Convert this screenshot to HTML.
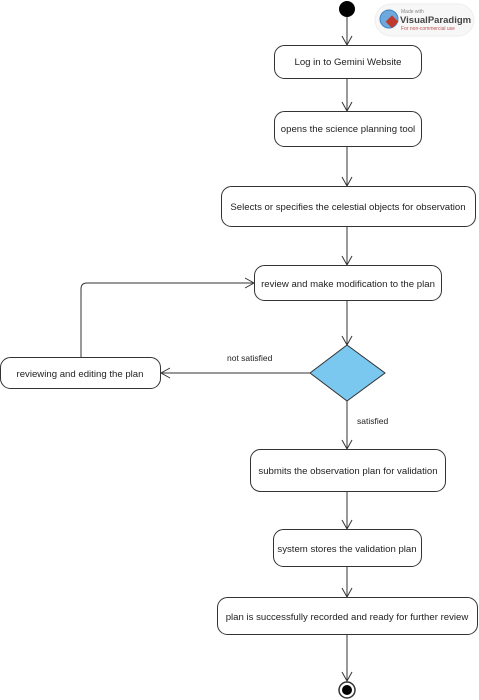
<!DOCTYPE html>
<html><head><meta charset="utf-8"><style>
html,body{margin:0;padding:0;background:#fff;}
svg{display:block;}
text{font-family:"Liberation Sans",Arial,sans-serif;font-size:9.6px;fill:#222;}
</style></head><body>
<svg width="479" height="700" viewBox="0 0 479 700" xmlns="http://www.w3.org/2000/svg">
<defs>
<marker id="a" markerWidth="12" markerHeight="12" refX="10" refY="6" orient="auto" markerUnits="userSpaceOnUse">
<path d="M1,1 L10,6 L1,11" fill="none" stroke="#333" stroke-width="1"/>
</marker>
</defs>
<g stroke="#333" stroke-width="1" fill="none">
<rect x="375" y="4" width="99" height="32" rx="16" fill="#f7f7f7" stroke="#eee"/>
</g>
<circle cx="389" cy="19" r="9" fill="#6fa8dc" stroke="#3d85c6"/>
<rect x="388" y="17" width="9" height="9" fill="#c0392b" transform="rotate(45 392 21)"/>
<text x="401" y="13" style="font-size:5px;fill:#888">Made with</text>
<text x="400" y="23" style="font-size:9.5px;font-weight:bold;fill:#444">VisualParadigm</text>
<text x="401" y="30" style="font-size:5px;fill:#b55">For non-commercial use</text>

<circle cx="347" cy="9" r="8" fill="#000"/>
<g stroke="#333" stroke-width="1" fill="none">
<line x1="347" y1="17" x2="347" y2="45" marker-end="url(#a)"/>
<rect x="274.5" y="45.5" width="147" height="33" rx="10" fill="#fff"/>
<line x1="347" y1="79" x2="347" y2="111" marker-end="url(#a)"/>
<rect x="274.5" y="111.5" width="147" height="35" rx="10" fill="#fff"/>
<line x1="347" y1="147" x2="347" y2="186" marker-end="url(#a)"/>
<rect x="221.5" y="186.5" width="254" height="40" rx="10" fill="#fff"/>
<line x1="347" y1="227" x2="347" y2="265" marker-end="url(#a)"/>
<rect x="254.5" y="265.5" width="187" height="35" rx="10" fill="#fff"/>
<line x1="347" y1="301" x2="347" y2="345" marker-end="url(#a)"/>
<polygon points="347,345 385,373 347,401 310,373" fill="#7ac8ef"/>
<line x1="310" y1="373" x2="161" y2="373" marker-end="url(#a)"/>
<rect x="0.5" y="357.5" width="160" height="31" rx="10" fill="#fff"/>
<path d="M81,357 L81,289 Q81,283 87,283 L254,283" marker-end="url(#a)"/>
<line x1="347" y1="401" x2="347" y2="449" marker-end="url(#a)"/>
<rect x="250.5" y="449.5" width="195" height="42" rx="10" fill="#fff"/>
<line x1="347" y1="492" x2="347" y2="529" marker-end="url(#a)"/>
<rect x="273.5" y="529.5" width="148" height="37" rx="10" fill="#fff"/>
<line x1="347" y1="567" x2="347" y2="597" marker-end="url(#a)"/>
<rect x="217.5" y="597.5" width="260" height="37" rx="10" fill="#fff"/>
<line x1="347" y1="635" x2="347" y2="681" marker-end="url(#a)"/>
<circle cx="347" cy="690" r="8" stroke-width="1.5" fill="#fff"/>
</g>
<circle cx="347" cy="690" r="5" fill="#000"/>

<g text-anchor="middle">
<text x="348" y="65">Log in to Gemini Website</text>
<text x="348" y="132">opens the science planning tool</text>
<text x="348" y="210">Selects or specifies the celestial objects for observation</text>
<text x="348" y="287">review and make modification to the plan</text>
<text x="80" y="377">reviewing and editing the plan</text>
<text x="348" y="474">submits the observation plan for validation</text>
<text x="347" y="552">system stores the validation plan</text>
<text x="347" y="620">plan is successfully recorded and ready for further review</text>
</g>
<text x="227" y="361" style="font-size:8.5px">not satisfied</text>
<text x="357" y="424" style="font-size:8.5px">satisfied</text>
</svg>
</body></html>
